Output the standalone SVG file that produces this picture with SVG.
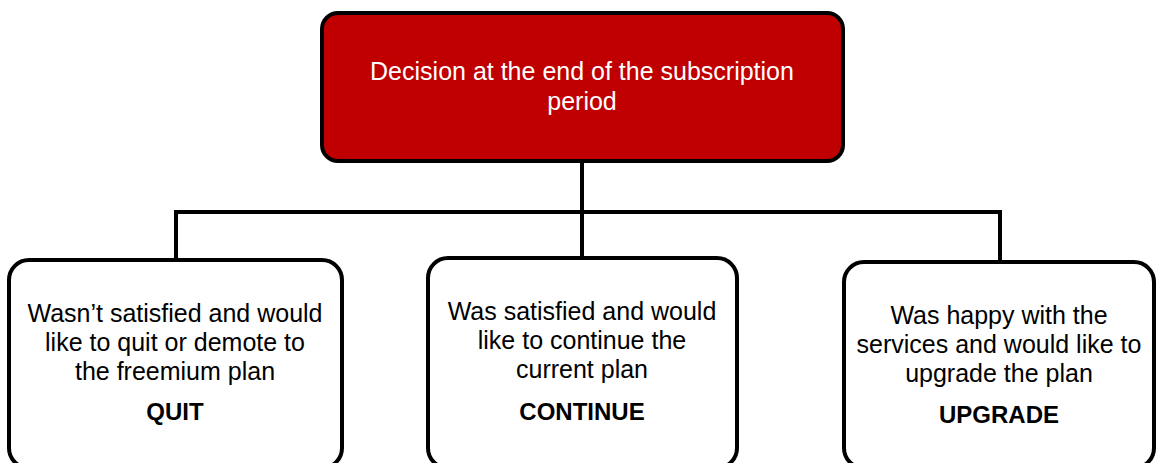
<svg xmlns="http://www.w3.org/2000/svg" width="1156" height="463" viewBox="0 0 1156 463">
<style>
.box{fill:#fff;stroke:#000;stroke-width:4}
.top{fill:#C00000;stroke:#000;stroke-width:4}
.t{font-family:"Liberation Sans",Arial,sans-serif;font-size:25px;text-anchor:middle;fill:#000}
.tw{fill:#fff}
.b{font-weight:bold;font-size:24px}
.c{fill:none;stroke:#000;stroke-width:4}
</style>
<rect width="1156" height="463" fill="#fff"/>
<g id="connectors">
<path class="c" d="M582 162 V212 M176 212 H1000 M176 210 V259 M582 212 V258 M1000 210 V261"/>
</g>
<g id="root">
<rect class="top" x="322" y="13" width="521" height="148" rx="16"/>
<text class="t tw" x="582" y="80">Decision at the end of the subscription</text>
<text class="t tw" x="582" y="110">period</text>
</g>
<g id="quit">
<rect class="box" x="9" y="260" width="333" height="208" rx="20"/>
<text class="t" x="175" y="322">Wasn’t satisfied and would</text>
<text class="t" x="175" y="351">like to quit or demote to</text>
<text class="t" x="175" y="380">the freemium plan</text>
<text class="t b" x="175" y="420">QUIT</text>
</g>
<g id="continue">
<rect class="box" x="428" y="258" width="309" height="210" rx="20"/>
<text class="t" x="582" y="320">Was satisfied and would</text>
<text class="t" x="582" y="349">like to continue the</text>
<text class="t" x="582" y="378">current plan</text>
<text class="t b" x="582" y="420">CONTINUE</text>
</g>
<g id="upgrade">
<rect class="box" x="844" y="262" width="310" height="206" rx="20"/>
<text class="t" x="999" y="324">Was happy with the</text>
<text class="t" x="999" y="353">services and would like to</text>
<text class="t" x="999" y="382">upgrade the plan</text>
<text class="t b" x="999" y="423">UPGRADE</text>
</g>
</svg>
